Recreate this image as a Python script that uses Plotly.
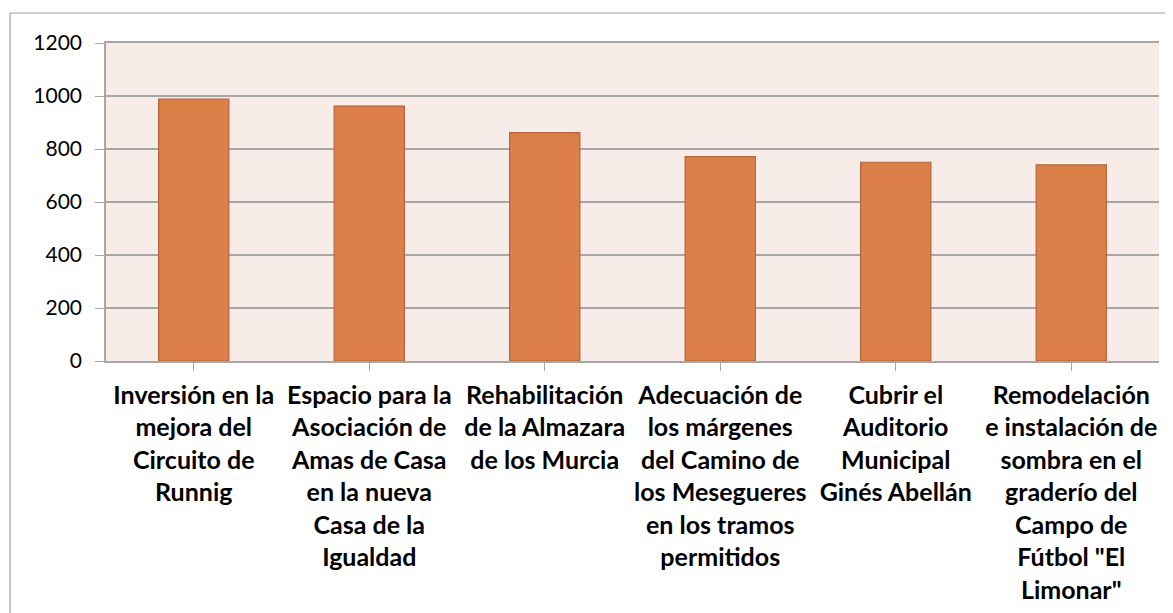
import plotly.graph_objects as go

# Datos
proyectos = [
    "Inversión en la<br>mejora del<br>Circuito de<br>Runnig",
    "Espacio para la<br>Asociación de<br>Amas de Casa<br>en la nueva<br>Casa de la<br>Igualdad",
    "Rehabilitación<br>de la Almazara<br>de los Murcia",
    "Adecuación de<br>los márgenes<br>del Camino de<br>los Mesegueres<br>en los tramos<br>permitidos",
    "Cubrir el<br>Auditorio<br>Municipal<br>Ginés Abellán",
    "Remodelación<br>e instalación de<br>sombra en el<br>graderío del<br>Campo de<br>Fútbol \"El<br>Limonar\"",
]
votos = [988, 962, 862, 771, 750, 740]
y_ticks = [0, 200, 400, 600, 800, 1000, 1200]

COLOR_BAR = "#DC7F48"
COLOR_BAR_EDGE = "#B5643A"
COLOR_PLOT_BG = "#F7ECE8"
COLOR_GRID = "#A6A6A6"

# la página añade 8px de margen al body, se compensa aquí
OFF = 8
W, H = 1173 - OFF, 613 - OFF
M_L, M_R, M_T, M_B = 106 - OFF, 14, 43 - OFF, 252
pw, ph = W - M_L - M_R, H - M_T - M_B

fig = go.Figure()
fig.add_trace(go.Bar(
    x=list(range(len(proyectos))),
    y=votos,
    width=0.4,
    marker=dict(color=COLOR_BAR, line=dict(color=COLOR_BAR_EDGE, width=1.2)),
    hoverinfo="y",
))

# marco exterior del gráfico (solo arriba e izquierda visibles)
def px_x(p):
    return (p - M_L) / pw

def px_y(p):
    return (H - M_B - p) / ph

fig.add_shape(type="line", xref="paper", yref="paper",
              x0=px_x(2), x1=px_x(W + 20), y0=px_y(5), y1=px_y(5),
              line=dict(color="#A0A0A0", width=1.2))
fig.add_shape(type="line", xref="paper", yref="paper",
              x0=px_x(2), x1=px_x(2), y0=px_y(5), y1=px_y(H + 20),
              line=dict(color="#A0A0A0", width=1.2))

fig.update_layout(
    width=W, height=H,
    margin=dict(l=M_L, r=M_R, t=M_T, b=M_B, autoexpand=False),
    paper_bgcolor="white",
    plot_bgcolor=COLOR_PLOT_BG,
    showlegend=False,
    font=dict(family="Lato, Carlito, Calibri, sans-serif", color="black"),
    xaxis=dict(
        tickmode="array",
        tickvals=list(range(len(proyectos))),
        ticktext=[f"<b>{p}</b>" for p in proyectos],
        range=[-0.5, len(proyectos) - 0.5],
        tickson="boundaries",
        ticks="outside", ticklen=8, tickcolor=COLOR_GRID, tickwidth=1.3,
        showline=True, linecolor=COLOR_GRID, linewidth=1.5, mirror=True,
        showgrid=False,
        tickfont=dict(size=25),
        tickangle=0,
        ticklabelstandoff=3,
        automargin=False,
    ),
    yaxis=dict(
        range=[0, 1200],
        tickvals=y_ticks,
        ticks="outside", ticklen=9, tickcolor=COLOR_GRID, tickwidth=1.3,
        showline=True, linecolor=COLOR_GRID, linewidth=1.5,
        showgrid=True, gridcolor=COLOR_GRID, gridwidth=1.5,
        zeroline=False,
        tickfont=dict(size=21),
        ticklabelstandoff=9,
        automargin=False,
    ),
)

fig.write_html("out.html")
